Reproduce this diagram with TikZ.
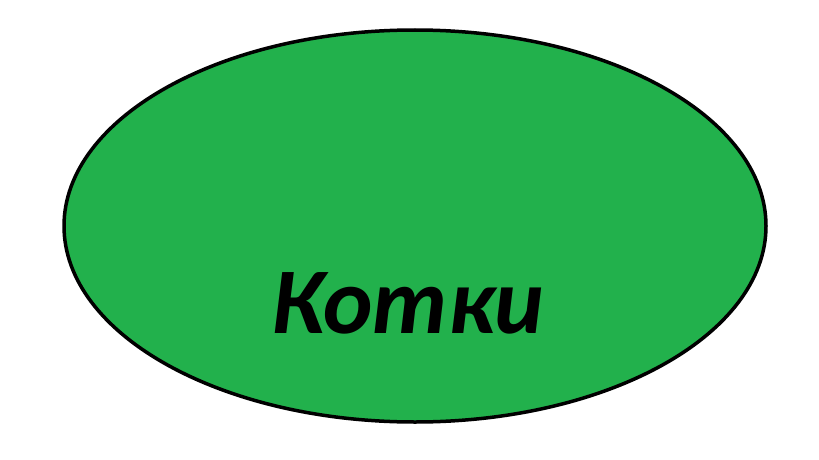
\documentclass[tikz,border=0pt]{standalone}
\usepackage{fontspec}
\setmainfont{Carlito}
\definecolor{paintgreen}{HTML}{22B14C}
\begin{document}
\begin{tikzpicture}[x=1pt,y=-1pt]
\useasboundingbox (0,0) rectangle (819,460);
\fill[white] (0,0) rectangle (819,460);
\draw[line width=3.5pt, fill=paintgreen] (415,226) ellipse [x radius=351, y radius=196];
\node[font=\fontsize{94}{94}\selectfont\bfseries\itshape, inner sep=0pt, anchor=base] (t) at (408,333) {Котки};
\end{tikzpicture}
\end{document}
